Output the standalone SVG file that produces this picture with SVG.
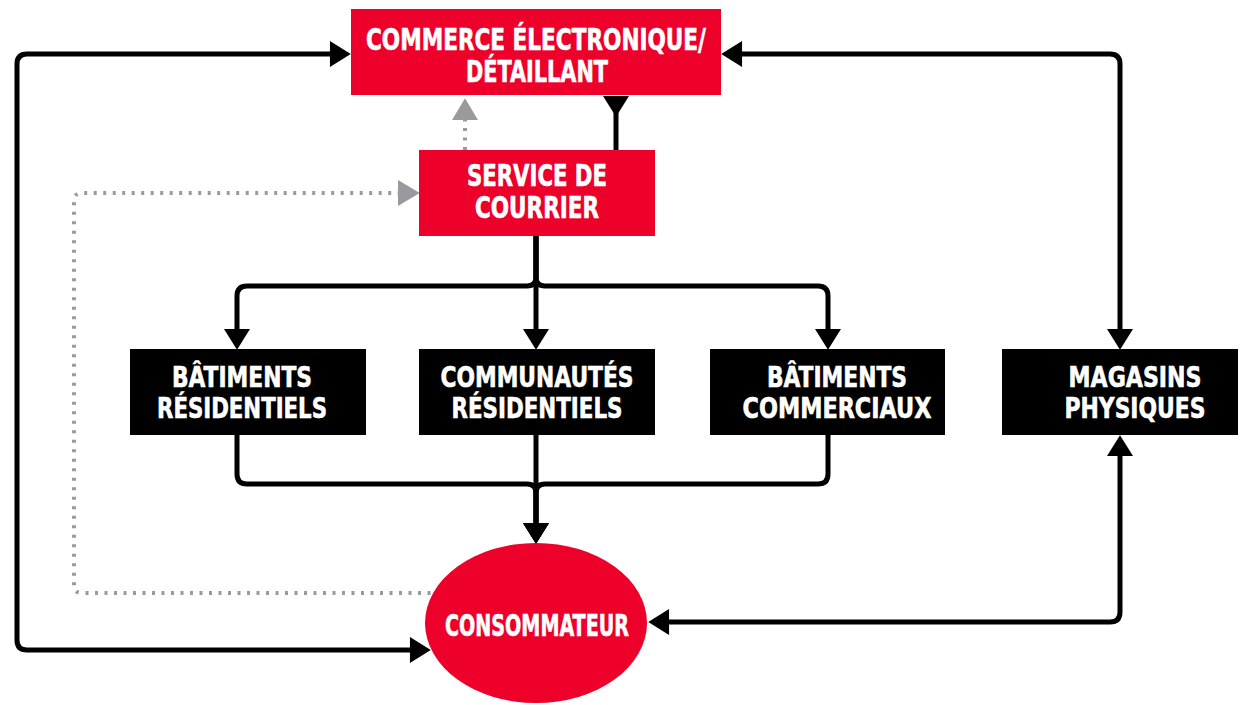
<svg xmlns="http://www.w3.org/2000/svg" width="1244" height="705" viewBox="0 0 1244 705">
<style>
.red{fill:#ED002A}
.blk{fill:#000}
.t{font-family:"DejaVu Sans Condensed","DejaVu Sans",sans-serif;font-weight:bold;fill:#fff;stroke:#fff;stroke-width:0.6;text-anchor:middle}
.tr{font-size:29.5px}
.tb{font-size:29px}
.ln{fill:none;stroke:#000;stroke-width:5}
.gl{fill:none;stroke:#999A9E;stroke-width:4;stroke-dasharray:3 6.5}
</style>
<defs>
<marker id="ah" markerUnits="userSpaceOnUse" markerWidth="22" markerHeight="26" viewBox="0 0 20 25" refX="1" refY="12.5" orient="auto-start-reverse"><path d="M0,0 L20,12.5 L0,25 z" fill="#000"/></marker>
<marker id="ahf" markerUnits="userSpaceOnUse" markerWidth="22" markerHeight="26" viewBox="0 0 20 25" refX="0" refY="12.5" orient="auto"><path d="M0,0 L20,12.5 L0,25 z" fill="#000"/></marker>
<marker id="ag" markerUnits="userSpaceOnUse" markerWidth="22" markerHeight="26" viewBox="0 0 21 25" refX="1" refY="12.5" orient="auto"><path d="M0,0 L21,12.5 L0,25 z" fill="#999A9E"/></marker>
</defs>
<g id="connectors">
<path class="gl" d="M465,150 L465,119" marker-end="url(#ag)"/>
<path class="gl" d="M440,593 L82,593 Q74,593 74,585 L74,201 Q74,193 82,193 L399,193" marker-end="url(#ag)"/>
<path class="ln" d="M331,54 L27,54 Q17,54 17,64 L17,640 Q17,650 27,650 L411,650" marker-start="url(#ah)" marker-end="url(#ah)"/>
<path class="ln" d="M741,54 L1110,54 Q1120,54 1120,64 L1120,330" marker-start="url(#ah)" marker-end="url(#ah)"/>
<path class="ln" d="M1120,455 L1120,612 Q1120,622 1110,622 L668,622" marker-start="url(#ah)" marker-end="url(#ah)"/>
<path class="ln" d="M616,96 L616,152" marker-start="url(#ahf)"/>
<path class="ln" d="M536,234 L536,277 Q536,286 527,286 L247,286 Q237,286 237,296 L237,330" marker-end="url(#ah)"/>
<path class="ln" d="M536,234 L536,277 Q536,286 545,286 L818,286 Q828,286 828,296 L828,330" marker-end="url(#ah)"/>
<path class="ln" d="M536,234 L536,330" marker-end="url(#ah)"/>
<path class="ln" d="M237,433 L237,474 Q237,484 247,484 L527,484 Q536,484 536,493 L536,524" marker-end="url(#ah)"/>
<path class="ln" d="M828,433 L828,474 Q828,484 818,484 L545,484 Q536,484 536,493 L536,524" marker-end="url(#ah)"/>
<path class="ln" d="M536,433 L536,524" marker-end="url(#ah)"/>
</g>
<g id="commerce">
<rect class="red" x="351" y="9" width="370" height="86"/>
<text class="t tr" x="536" y="50" textLength="340" lengthAdjust="spacingAndGlyphs">COMMERCE ÉLECTRONIQUE/</text>
<text class="t tr" x="537" y="82" textLength="142" lengthAdjust="spacingAndGlyphs">DÉTAILLANT</text>
</g>
<g id="service">
<rect class="red" x="419" y="150" width="236" height="86"/>
<text class="t tr" x="537" y="186" textLength="140" lengthAdjust="spacingAndGlyphs">SERVICE DE</text>
<text class="t tr" x="537" y="218" textLength="124" lengthAdjust="spacingAndGlyphs">COURRIER</text>
</g>
<g id="batiments-residentiels">
<rect class="blk" x="130" y="349" width="236" height="86"/>
<text class="t tb" x="242" y="387" textLength="140" lengthAdjust="spacingAndGlyphs">BÂTIMENTS</text>
<text class="t tb" x="242" y="418" textLength="170" lengthAdjust="spacingAndGlyphs">RÉSIDENTIELS</text>
</g>
<g id="communautes">
<rect class="blk" x="419" y="349" width="236" height="86"/>
<text class="t tb" x="537" y="387" textLength="193" lengthAdjust="spacingAndGlyphs">COMMUNAUTÉS</text>
<text class="t tb" x="537" y="418" textLength="171" lengthAdjust="spacingAndGlyphs">RÉSIDENTIELS</text>
</g>
<g id="batiments-commerciaux">
<rect class="blk" x="710" y="349" width="235" height="86"/>
<text class="t tb" x="837" y="387" textLength="140" lengthAdjust="spacingAndGlyphs">BÂTIMENTS</text>
<text class="t tb" x="837" y="418" textLength="189" lengthAdjust="spacingAndGlyphs">COMMERCIAUX</text>
</g>
<g id="magasins">
<rect class="blk" x="1002" y="349" width="236" height="86"/>
<text class="t tb" x="1135" y="387" textLength="133" lengthAdjust="spacingAndGlyphs">MAGASINS</text>
<text class="t tb" x="1135" y="418" textLength="141" lengthAdjust="spacingAndGlyphs">PHYSIQUES</text>
</g>
<g id="consommateur">
<ellipse class="red" cx="536" cy="623" rx="111" ry="80"/>
<text class="t tr" x="537" y="636" textLength="184" lengthAdjust="spacingAndGlyphs">CONSOMMATEUR</text>
</g>
</svg>
